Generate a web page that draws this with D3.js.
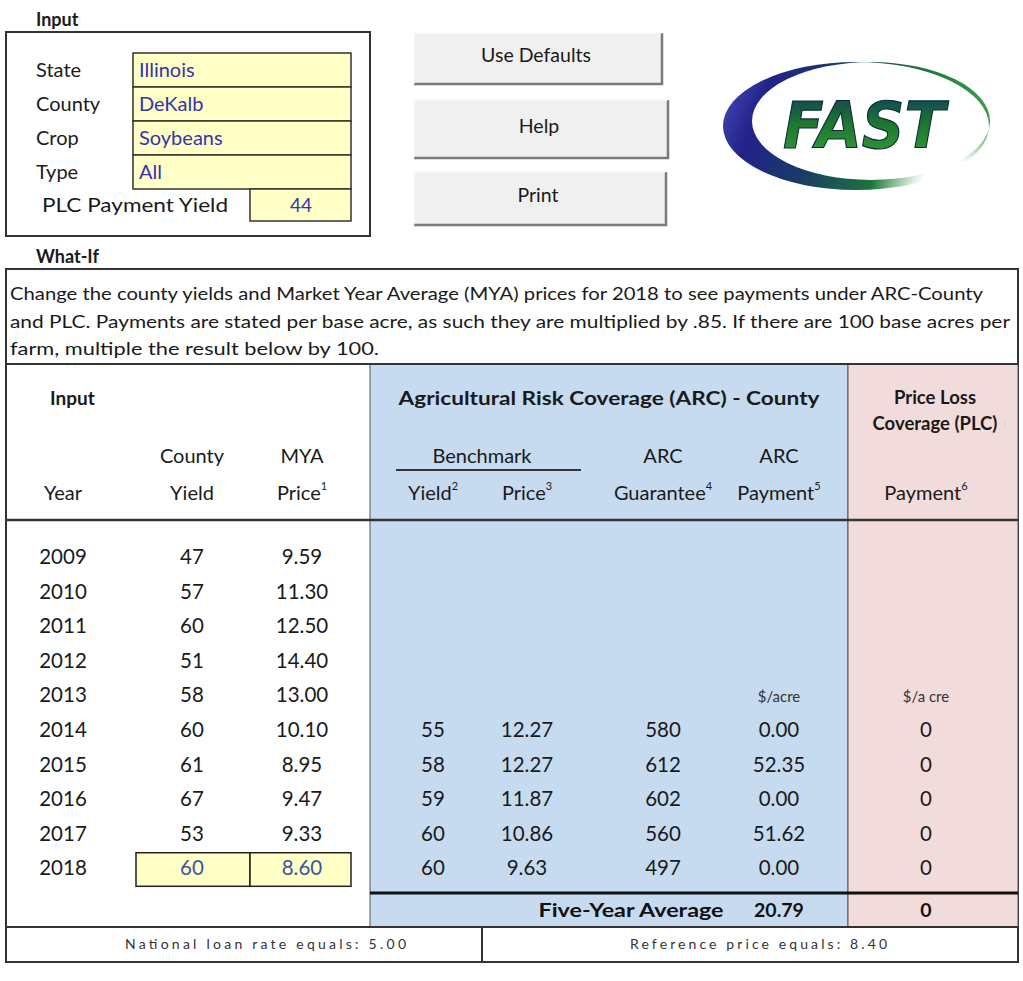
<!DOCTYPE html>
<html><head><meta charset="utf-8">
<script src="https://cdn.jsdelivr.net/npm/d3@7/dist/d3.min.js"></script>
<style>
html,body{margin:0;padding:0;background:#fff;}
svg{display:block;font-family:Lato,"Open Sans",sans-serif;}
</style></head>
<body>
<svg id="c" width="1023" height="981"></svg>
<script>
// ---------- DATA ----------
const years        = [2009,2010,2011,2012,2013,2014,2015,2016,2017,2018];
const countyYield  = [47,57,60,51,58,60,61,67,53,60];
const myaPrice     = [9.59,11.30,12.50,14.40,13.00,10.10,8.95,9.47,9.33,8.60];
const benchYield   = [null,null,null,null,null,55,58,59,60,60];
const benchPrice   = [null,null,null,null,null,12.27,12.27,11.87,10.86,9.63];
const arcGuarantee = [null,null,null,null,null,580,612,602,560,497];
const arcPayment   = [null,null,null,null,null,0.00,52.35,0.00,51.62,0.00];
const plcPayment   = [null,null,null,null,null,0,0,0,0,0];
const fiveYearAvg  = {arc:20.79, plc:0};
const inputLabels  = ["State","County","Crop","Type"];
const inputValues  = ["Illinois","DeKalb","Soybeans","All"];
const plcYieldLabel = "PLC Payment Yield";
const plcYield     = 44;
const buttons      = ["Use Defaults","Help","Print"];
const introLines   = [
  "Change the county yields and Market Year Average (MYA) prices for 2018 to see payments under ARC-County",
  "and PLC.  Payments are stated per base acre, as such they are multiplied by .85. If there are 100 base acres per",
  "farm, multiple the result below by 100."
];
const loanRate = 5.00, refPrice = 8.40;

// ---------- LAYOUT ----------
const svg = d3.select("#c");
const INK = "#1a1a1a", BLUE_TXT = "#3434b0", BLUE2 = "#3a56a8";
const YELLOW = "#ffffc6", ARC_BG = "#c6daf0", PLC_BG = "#f2dcdb";

// Title texts
svg.append("text").attr("x",36).attr("y",26).attr("font-size",18).attr("font-weight",700).attr("fill",INK).text("Input");
svg.append("text").attr("x",36).attr("y",263).attr("font-size",18).attr("font-weight",700).attr("fill",INK).text("What-If");

// Input box
svg.append("rect").attr("x",6).attr("y",32).attr("width",364).attr("height",204).attr("fill","#fff").attr("stroke","#333").attr("stroke-width",2);
const yIn = d3.scaleBand().domain(inputLabels).range([53,189]);
const gIn = svg.append("g");
gIn.selectAll("rect.f").data(inputLabels).join("rect").attr("class","f")
  .attr("x",133).attr("y",d=>yIn(d)).attr("width",218).attr("height",yIn.bandwidth())
  .attr("fill",YELLOW).attr("stroke","#333").attr("stroke-width",1.5);
gIn.selectAll("text.l").data(inputLabels).join("text").attr("class","l")
  .attr("x",36).attr("y",d=>yIn(d)+yIn.bandwidth()/2+2).attr("dominant-baseline","middle")
  .attr("font-size",20).attr("fill",INK).text(d=>d);
gIn.selectAll("text.v").data(inputValues).join("text").attr("class","v")
  .attr("x",139).attr("y",(d,i)=>yIn(inputLabels[i])+yIn.bandwidth()/2+2).attr("dominant-baseline","middle")
  .attr("font-size",20).attr("fill",BLUE_TXT).text(d=>d);
gIn.append("rect").attr("x",250).attr("y",189).attr("width",101).attr("height",32).attr("fill",YELLOW).attr("stroke","#333").attr("stroke-width",1.5);
gIn.append("text").attr("x",42).attr("y",207).attr("dominant-baseline","middle").attr("font-size",20).attr("fill",INK)
  .attr("textLength",186).attr("lengthAdjust","spacingAndGlyphs").text(plcYieldLabel);
gIn.append("text").attr("x",301).attr("y",207).attr("text-anchor","middle").attr("dominant-baseline","middle").attr("font-size",19).attr("fill",BLUE_TXT).text(plcYield);

// Buttons
const btnGeom = [{y:33,h:51,w:248},{y:100,h:58,w:254},{y:172,h:53,w:252}];
const gB = svg.append("g").selectAll("g").data(buttons).join("g");
gB.append("rect").attr("x",414).attr("y",(d,i)=>btnGeom[i].y).attr("width",(d,i)=>btnGeom[i].w).attr("height",(d,i)=>btnGeom[i].h).attr("fill","#f0f0f0");
gB.append("path").attr("d",(d,i)=>{const g=btnGeom[i];return `M${414},${g.y+g.h} H${414+g.w} V${g.y}`;}).attr("fill","none").attr("stroke","#7a7a7a").attr("stroke-width",2.5);
gB.append("path").attr("d",(d,i)=>{const g=btnGeom[i];return `M${414},${g.y+g.h} V${g.y} H${414+g.w}`;}).attr("fill","none").attr("stroke","#fafafa").attr("stroke-width",1);
gB.append("text").attr("x",(d,i)=>414+btnGeom[i].w/2-2).attr("y",(d,i)=>btnGeom[i].y+btnGeom[i].h/2-1)
  .attr("text-anchor","middle").attr("dominant-baseline","middle").attr("font-size",19.5).attr("fill",INK).text(d=>d);

// Logo
const defs = svg.append("defs");
const lg = defs.append("linearGradient").attr("id","sw").attr("x1","0").attr("y1","0").attr("x2","1").attr("y2","0.2");
[["0","#5050c0"],["0.2","#22228a"],["0.45","#183c66"],["0.75","#1e7a3a"],["1","#3a9a48"]].forEach(s=>lg.append("stop").attr("offset",s[0]).attr("stop-color",s[1]));
const fg = defs.append("linearGradient").attr("id","ft").attr("x1","0").attr("y1","0").attr("x2","0").attr("y2","1");
[["0","#0e3a5a"],["0.5","#1f7a2e"],["1","#3aa040"]].forEach(s=>fg.append("stop").attr("offset",s[0]).attr("stop-color",s[1]));
const mg = defs.append("radialGradient").attr("id","mg").attr("gradientUnits","userSpaceOnUse")
  .attr("cx",955).attr("cy",200).attr("r",85);
[["0","#000"],["0.45","#000"],["1","#fff"]].forEach(s=>mg.append("stop").attr("offset",s[0]).attr("stop-color",s[1]));
const mask = defs.append("mask").attr("id","lm").attr("maskUnits","userSpaceOnUse").attr("x",700).attr("y",40).attr("width",320).attr("height",180);
mask.append("rect").attr("x",700).attr("y",40).attr("width",320).attr("height",180).attr("fill","url(#mg)");
const ell=(cx,cy,rx,ry)=>`M${cx-rx},${cy} A${rx},${ry} 0 1,0 ${cx+rx},${cy} A${rx},${ry} 0 1,0 ${cx-rx},${cy} Z`;
svg.append("path").attr("d",ell(856,126,133,64)+ell(871,121,119,59)).attr("fill-rule","evenodd").attr("fill","url(#sw)").attr("mask","url(#lm)");
svg.append("text").attr("x",783).attr("y",148).attr("font-size",64).attr("font-weight",900).attr("font-style","italic")
  .attr("font-family","'DejaVu Sans',sans-serif").attr("textLength",162).attr("lengthAdjust","spacingAndGlyphs")
  .attr("fill","url(#ft)").attr("stroke","#0b2a3a").attr("stroke-width",1.2).text("FAST");

// What-If table frame
const L=6, R=1018, T=269, B=962;
svg.append("rect").attr("x",L).attr("y",T).attr("width",R-L).attr("height",B-T).attr("fill","#fff").attr("stroke","#333").attr("stroke-width",2);
const yLine = d3.scalePoint().domain([0,1,2]).range([296,351]);
svg.append("g").selectAll("text").data(introLines).join("text")
  .attr("x",10).attr("y",(d,i)=>yLine(i)).attr("dominant-baseline","middle").attr("font-size",17).attr("fill",INK)
  .attr("textLength",(d,i)=>[973,1000,369][i]).attr("lengthAdjust","spacingAndGlyphs").text(d=>d);

// Section backgrounds
svg.append("rect").attr("x",370).attr("y",364).attr("width",478).attr("height",563).attr("fill",ARC_BG).attr("stroke","#555").attr("stroke-width",1);
svg.append("rect").attr("x",848).attr("y",364).attr("width",170).attr("height",563).attr("fill",PLC_BG).attr("stroke","#555").attr("stroke-width",1);
svg.append("line").attr("x1",L).attr("x2",R).attr("y1",364).attr("y2",364).attr("stroke","#333").attr("stroke-width",2);
svg.append("line").attr("x1",L).attr("x2",R).attr("y1",520).attr("y2",520).attr("stroke","#333").attr("stroke-width",2.5);
svg.append("line").attr("x1",370).attr("x2",R).attr("y1",893).attr("y2",893).attr("stroke","#111").attr("stroke-width",3);
svg.append("line").attr("x1",L).attr("x2",R).attr("y1",927).attr("y2",927).attr("stroke","#333").attr("stroke-width",2);
svg.append("line").attr("x1",482).attr("x2",482).attr("y1",927).attr("y2",B).attr("stroke","#333").attr("stroke-width",2);

// Column scale
const colKeys = ["year","cy","mya","by","bp","gu","ap","plc"];
const xCol = d3.scaleOrdinal().domain(colKeys).range([63,192,302,433,527,663,779,926]);

// Headers
const H = svg.append("g").attr("fill",INK);
H.append("text").attr("x",50).attr("y",400).attr("dominant-baseline","middle").attr("font-size",19).attr("font-weight",700).text("Input");
H.append("text").attr("x",609).attr("y",400).attr("text-anchor","middle").attr("dominant-baseline","middle").attr("font-size",19).attr("font-weight",700)
  .attr("textLength",421).attr("lengthAdjust","spacingAndGlyphs").text("Agricultural Risk Coverage (ARC) - County");
H.append("text").attr("x",935).attr("y",399).attr("text-anchor","middle").attr("dominant-baseline","middle").attr("font-size",18.5).attr("font-weight",700).text("Price Loss");
H.append("text").attr("x",935).attr("y",425).attr("text-anchor","middle").attr("dominant-baseline","middle").attr("font-size",18.5).attr("font-weight",700).text("Coverage (PLC)");
const head1 = [["cy","County"],["mya","MYA"],["ap","ARC"],["gu","ARC"]];
H.selectAll("text.h1").data(head1).join("text").attr("class","h1")
  .attr("x",d=>xCol(d[0])).attr("y",458).attr("text-anchor","middle").attr("dominant-baseline","middle").attr("font-size",20).text(d=>d[1]);
H.append("text").attr("x",482).attr("y",458).attr("text-anchor","middle").attr("dominant-baseline","middle").attr("font-size",20).text("Benchmark");
H.append("line").attr("x1",396).attr("x2",581).attr("y1",470).attr("y2",470).attr("stroke","#333").attr("stroke-width",2);
const head2 = [["year","Year",""],["cy","Yield",""],["mya","Price","1"],["by","Yield","2"],["bp","Price","3"],["gu","Guarantee","4"],["ap","Payment","5"],["plc","Payment","6"]];
const h2 = H.selectAll("text.h2").data(head2).join("text").attr("class","h2")
  .attr("x",d=>xCol(d[0])).attr("y",495).attr("text-anchor","middle").attr("dominant-baseline","middle").attr("font-size",20);
h2.append("tspan").text(d=>d[1]);
h2.append("tspan").attr("dy",-8).attr("font-size",11).text(d=>d[2]);

// Data rows
const yRow = d3.scaleBand().domain(years).range([540.7,886.3]);
const f2 = d3.format(".2f"), f0 = d3.format("d");
const rows = years.map((y,i)=>({year:y,cy:countyYield[i],mya:myaPrice[i],by:benchYield[i],bp:benchPrice[i],gu:arcGuarantee[i],ap:arcPayment[i],plc:plcPayment[i]}));
const fmt = {year:d=>String(d),cy:f0,mya:f2,by:f0,bp:f2,gu:f0,ap:f2,plc:f0};

// 2018 input cells
const last = years[years.length-1];
svg.append("g").selectAll("rect").data(["cy","mya"]).join("rect")
  .attr("x",(d,i)=>[136,250][i]).attr("y",yRow(last)+1).attr("width",(d,i)=>[114,101][i]).attr("height",yRow.bandwidth()-1)
  .attr("fill",YELLOW).attr("stroke","#222").attr("stroke-width",1.5);

const cells = [];
rows.forEach(r=>colKeys.forEach(k=>{ if(r[k]!==null) cells.push({year:r.year,key:k,v:r[k]}); }));
svg.append("g").selectAll("text").data(cells).join("text")
  .attr("x",d=>xCol(d.key)).attr("y",d=>yRow(d.year)+yRow.bandwidth()/2+1)
  .attr("text-anchor","middle").attr("dominant-baseline","middle").attr("font-size",20.5)
  .attr("fill",d=>(d.year===last&&(d.key==="cy"||d.key==="mya"))?BLUE2:INK)
  .text(d=>fmt[d.key](d.v));

// unit labels
svg.append("g").selectAll("text").data([["ap","$/acre"],["plc","$/a cre"]]).join("text")
  .attr("x",d=>xCol(d[0])).attr("y",yRow(2013)+yRow.bandwidth()/2+2).attr("text-anchor","middle").attr("dominant-baseline","middle")
  .attr("font-size",15).attr("fill","#333").text(d=>d[1]);

// Five-year average
svg.append("text").attr("x",631).attr("y",912).attr("text-anchor","middle").attr("dominant-baseline","middle").attr("font-size",19.5).attr("font-weight",700).attr("fill","#111")
  .attr("textLength",185).attr("lengthAdjust","spacingAndGlyphs").text("Five-Year Average");
svg.append("text").attr("x",xCol("ap")).attr("y",912).attr("text-anchor","middle").attr("dominant-baseline","middle").attr("font-size",19.5).attr("font-weight",700).attr("fill","#111").text(f2(fiveYearAvg.arc));
svg.append("text").attr("x",xCol("plc")).attr("y",912).attr("text-anchor","middle").attr("dominant-baseline","middle").attr("font-size",19.5).attr("font-weight",700).attr("fill","#111").text(f0(fiveYearAvg.plc));

// Footer
svg.append("text").attr("x",125).attr("y",945).attr("dominant-baseline","middle").attr("font-size",14).attr("fill","#333")
  .attr("textLength",281).attr("lengthAdjust","spacing").text("National loan rate equals:  " + f2(loanRate));
svg.append("text").attr("x",630).attr("y",945).attr("dominant-baseline","middle").attr("font-size",14).attr("fill","#333")
  .attr("textLength",257).attr("lengthAdjust","spacing").text("Reference price equals:  " + f2(refPrice));
</script>
</body></html>
